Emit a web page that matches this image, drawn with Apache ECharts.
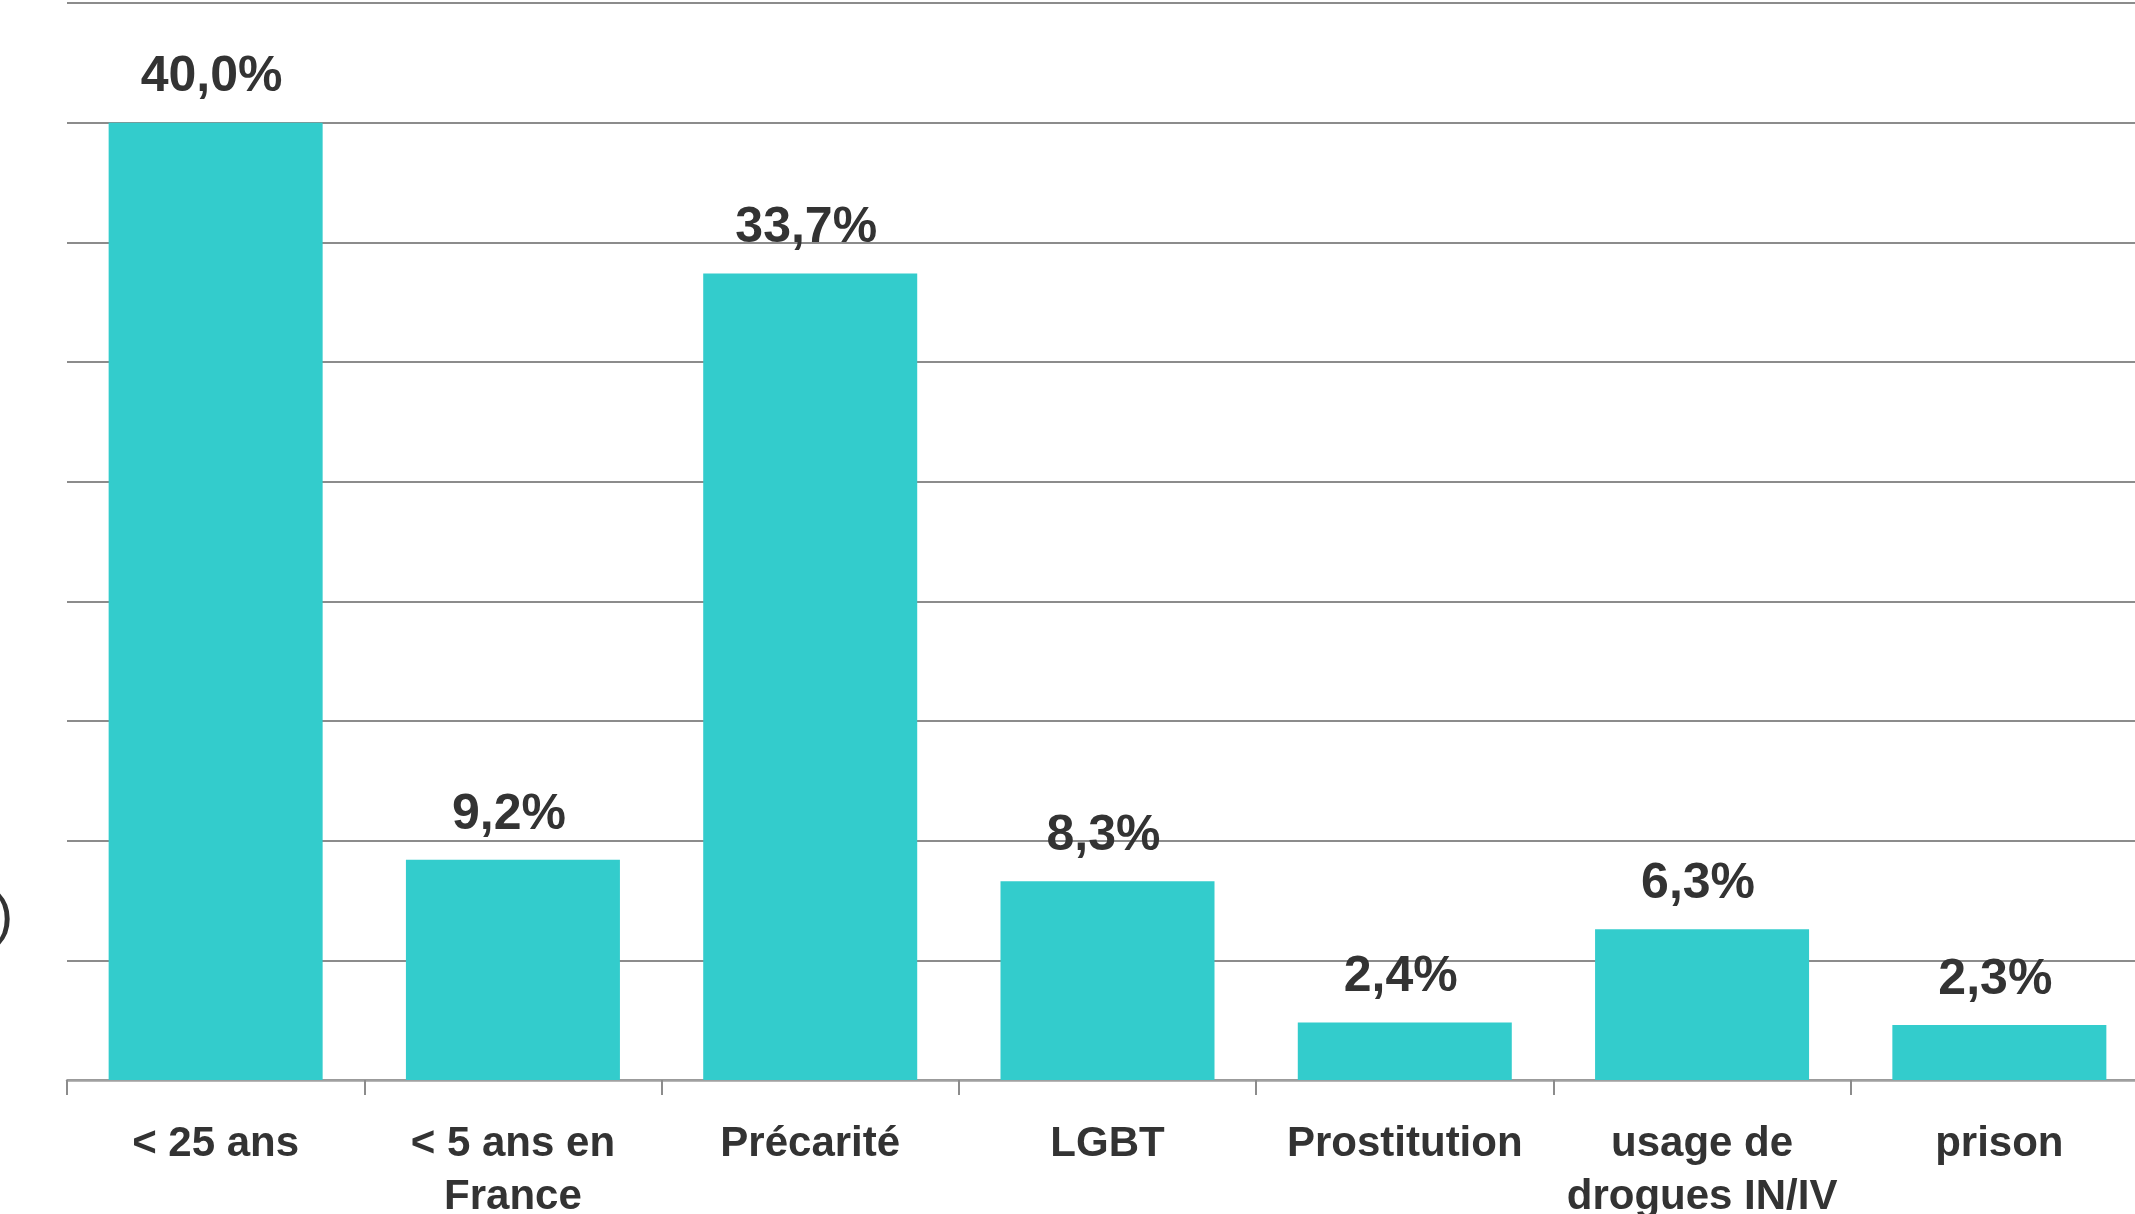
<!DOCTYPE html>
<html>
<head>
<meta charset="utf-8">
<script src="https://cdn.jsdelivr.net/npm/echarts@6/dist/echarts.min.js"></script>
<style>
html,body{margin:0;padding:0;background:#fff;}
#chart{width:2135px;height:1214px;}
</style>
</head>
<body>
<div id="chart"></div>
<script>
const categories = ['< 25 ans', '< 5 ans en\nFrance', 'Précarité', 'LGBT', 'Prostitution', 'usage de\ndrogues IN/IV', 'prison'];
const values = [40.0, 9.2, 33.7, 8.3, 2.4, 6.3, 2.3];
const yMin = 0, yMax = 45, yStep = 5;
const axisFragment = '(%)';

const chart = echarts.init(document.getElementById('chart'), null, {renderer: 'canvas'});
const font = '"Liberation Sans", Arial, sans-serif';
chart.setOption({
  animation: false,
  backgroundColor: '#ffffff',
  grid: {left: 67, top: 3, right: -13, bottom: 134, containLabel: false, outerBoundsMode: 'none'},
  graphic: [{
    type: 'text', left: -74, top: 890,
    style: {text: axisFragment, font: '56px ' + font, fill: '#333333'}
  }],
  xAxis: {
    type: 'category',
    data: categories,
    axisLine: {show: true, lineStyle: {color: '#a0a0a0', width: 2.5}},
    axisTick: {show: true, length: 15, lineStyle: {color: '#8c8c8c', width: 2}},
    axisLabel: {
      interval: 0, margin: 38, color: '#333333',
      fontFamily: font, fontWeight: 'bold', fontSize: 42, lineHeight: 53
    }
  },
  yAxis: {
    type: 'value', min: yMin, max: yMax, interval: yStep,
    axisLabel: {show: false},
    axisLine: {show: false}, axisTick: {show: false},
    splitLine: {show: true, lineStyle: {color: '#8c8c8c', width: 2}}
  },
  series: [{
    type: 'bar',
    data: values,
    barWidth: 214,
    itemStyle: {color: '#33CCCC'},
    label: {
      show: true, position: 'top', distance: 20, offset: [-4, 0],
      color: '#333333', fontFamily: font, fontWeight: 'bold', fontSize: 50,
      formatter: p => p.value.toFixed(1).replace('.', ',') + '%'
    }
  }]
});
</script>
</body>
</html>
